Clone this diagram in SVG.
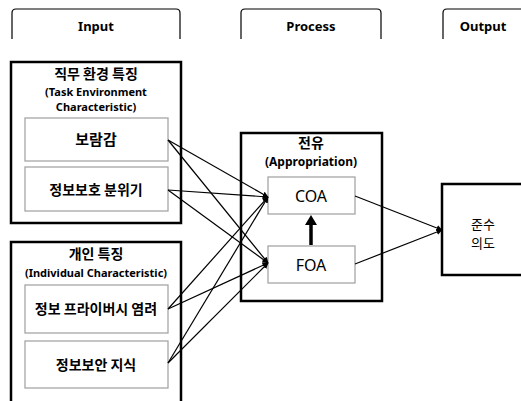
<svg xmlns="http://www.w3.org/2000/svg" width="521" height="401" viewBox="0 0 521 401">
<defs>
<style>
.tab{fill:none;stroke:#000;stroke-width:1.2}
.outer{fill:#fff;stroke:#000;stroke-width:2.5}
.inner{fill:#fff;stroke:#a6a6a6;stroke-width:1.3}
.t{font-family:"Noto Sans CJK KR","Noto Sans",sans-serif;fill:#000;text-anchor:middle}
.e{font-family:"Noto Sans","Noto Sans CJK KR",sans-serif;fill:#000;text-anchor:middle}
.b{font-weight:bold}
.c{stroke:#000;stroke-width:1.2;fill:none;marker-end:url(#ah)}
</style>
<marker id="ah" markerWidth="6" markerHeight="6" refX="5.5" refY="3" orient="auto" markerUnits="userSpaceOnUse">
<path d="M0,0 L6,3 L0,6 z" fill="#000"/>
</marker>
</defs>
<g id="tab-input"><path class="tab" d="M12,39 V13 Q12,9 16,9 H176 Q180,9 180,13 V39"/><text class="e b" x="96" y="31" font-size="13">Input</text></g>
<g id="tab-process"><path class="tab" d="M241,39 V13 Q241,9 245,9 H377 Q381,9 381,13 V39"/><text class="e b" x="311" y="31" font-size="13">Process</text></g>
<g id="tab-output"><path class="tab" d="M443,39 V13 Q443,9 447,9 H522"/><text class="e b" x="483" y="31" font-size="13">Output</text></g>

<g id="task-env"><rect class="outer" x="11" y="62" width="170" height="161"/>
<text class="t b" x="96" y="79" font-size="14">직무 환경 특징</text>
<text class="e b" x="96" y="96" font-size="11">(Task Environment</text>
<text class="e b" x="96" y="111" font-size="11">Characteristic)</text></g>
<g id="boramgam"><rect class="inner" x="25" y="118" width="143" height="43"/><text class="t b" x="96" y="145" font-size="15">보람감</text></g>
<g id="security-climate"><rect class="inner" x="25" y="167" width="143" height="44"/><text class="t b" x="96" y="195" font-size="14">정보보호 분위기</text></g>

<g id="individual"><rect class="outer" x="11" y="242" width="170" height="170"/>
<text class="t b" x="96" y="259" font-size="14">개인 특징</text>
<text class="e b" x="96" y="277" font-size="11">(Individual Characteristic)</text></g>
<g id="privacy-concern"><rect class="inner" x="25" y="285" width="143" height="48"/><text class="t b" x="96" y="314" font-size="14">정보 프라이버시 염려</text></g>
<g id="security-knowledge"><rect class="inner" x="25" y="341" width="143" height="47"/><text class="t b" x="96" y="370" font-size="14">정보보안 지식</text></g>

<g id="appropriation"><rect class="outer" x="241" y="133" width="141" height="168"/>
<text class="t b" x="311" y="148" font-size="14">전유</text>
<text class="e b" x="311" y="166" font-size="12">(Appropriation)</text></g>
<g id="coa"><rect class="inner" x="268" y="177" width="87" height="37"/><text class="e" x="311" y="202" font-size="16">COA</text></g>
<g id="foa"><rect class="inner" x="268" y="246" width="87" height="37"/><text class="e" x="311" y="271" font-size="16">FOA</text></g>

<g id="compliance"><rect class="outer" x="442" y="184" width="90" height="91"/>
<text class="t" x="483" y="229" font-size="13">준수</text>
<text class="t" x="483" y="248" font-size="13">의도</text></g>

<g id="connectors">
<line class="c" x1="168" y1="140" x2="268" y2="197"/>
<line class="c" x1="168" y1="140" x2="268" y2="263"/>
<line class="c" x1="168" y1="190" x2="268" y2="197"/>
<line class="c" x1="168" y1="190" x2="268" y2="263"/>
<line class="c" x1="168" y1="309" x2="268" y2="197"/>
<line class="c" x1="168" y1="309" x2="268" y2="263"/>
<line class="c" x1="168" y1="363" x2="268" y2="197"/>
<line class="c" x1="168" y1="363" x2="268" y2="263"/>
<line class="c" x1="355" y1="196" x2="442" y2="230"/>
<line class="c" x1="355" y1="264" x2="442" y2="230"/>
<line x1="311" y1="245" x2="311" y2="224" stroke="#000" stroke-width="3.5"/>
<path d="M305,225 L311,215 L317,225 z" fill="#000"/>
</g>
</svg>
